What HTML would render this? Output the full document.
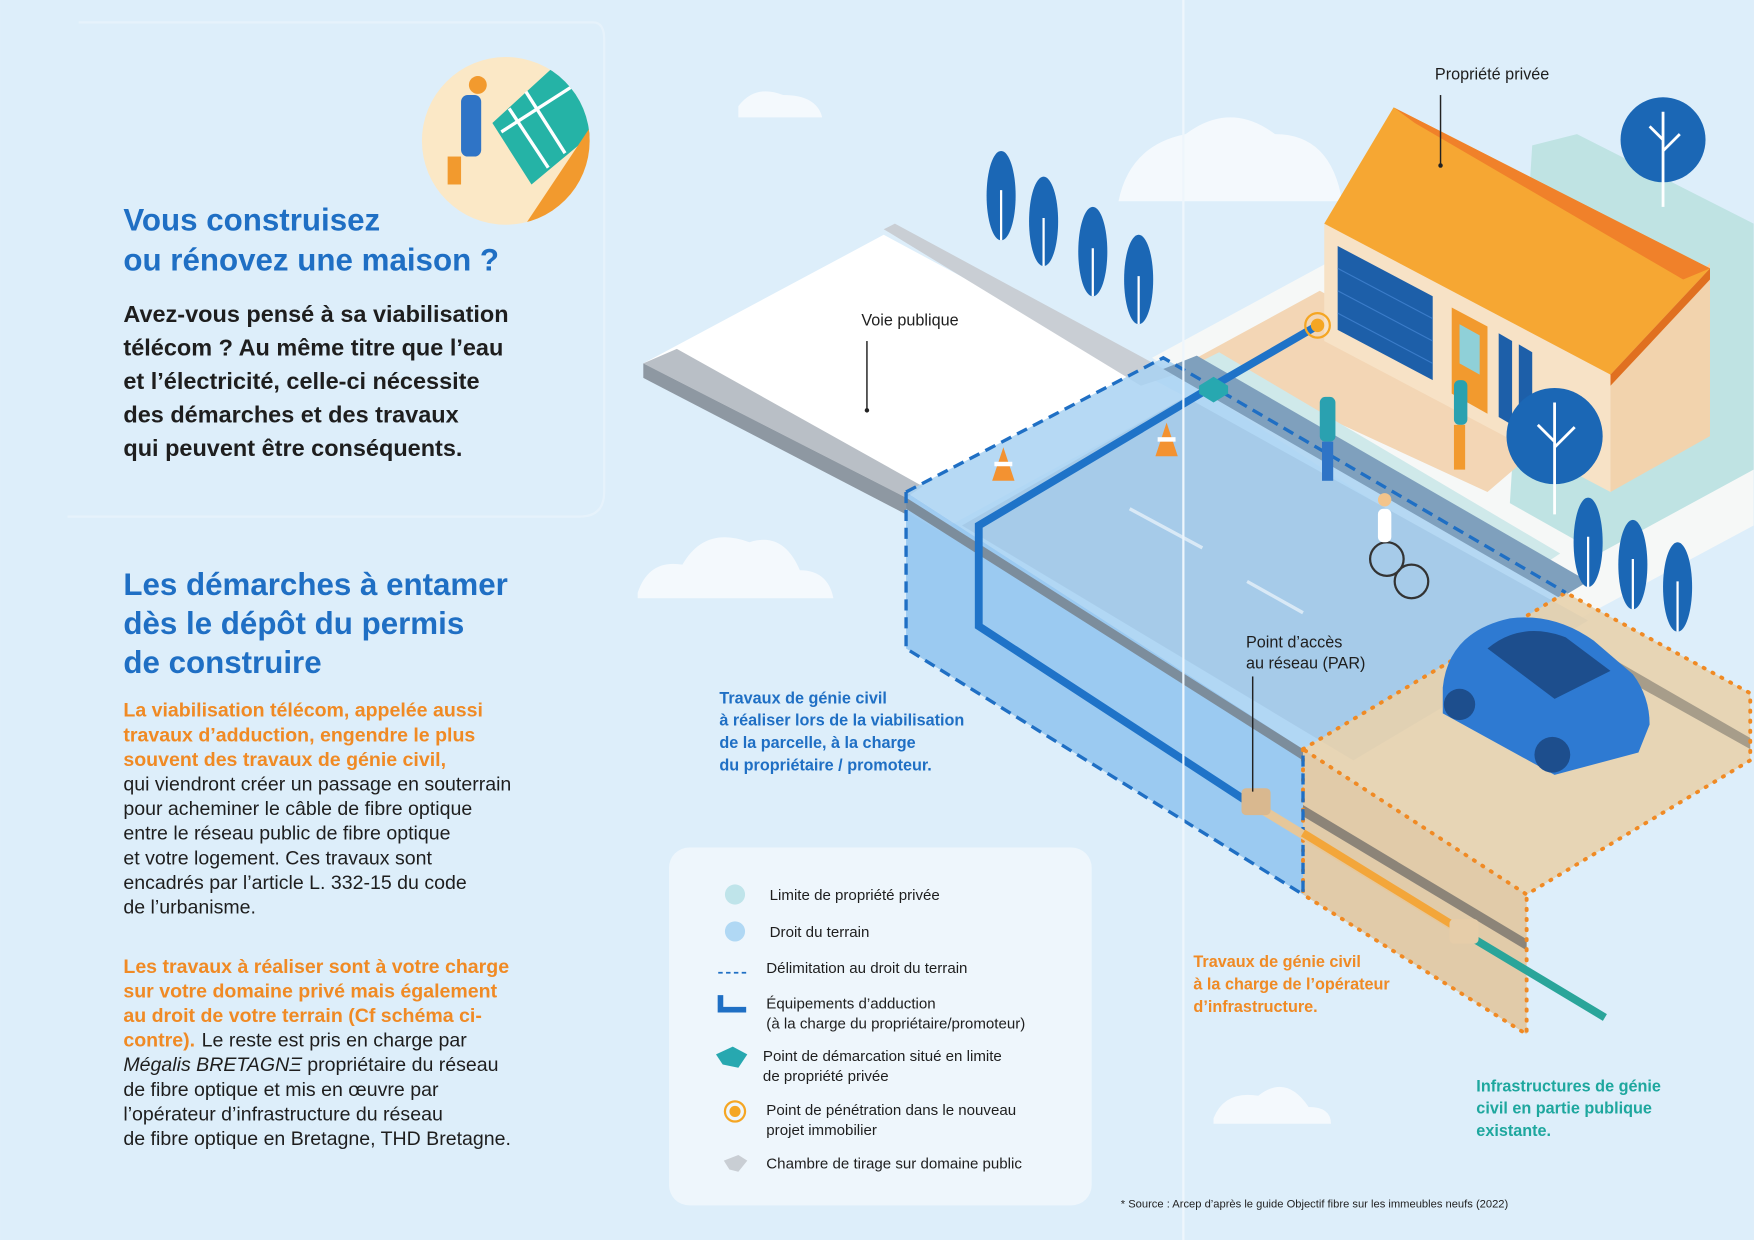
<!DOCTYPE html>
<html><head><meta charset="utf-8"><style>
html,body{margin:0;padding:0;background:#deeefa;}
svg{display:block}
text{font-family:"Liberation Sans",sans-serif;}
</style></head><body>
<svg width="1754" height="1240" viewBox="0 0 1568 1109" xmlns="http://www.w3.org/2000/svg">
<rect width="1568" height="1109" fill="#ddeefa"/>
<path d="M70 20 H530 Q540 20 540 35 V440 Q540 462 518 462 H60" fill="none" stroke="#e6f2fb" stroke-width="2"/>
<g fill="#f4f9fd">
<path d="M570 530 q10-30 40-25 q20-35 60-20 q30-10 45 25 q25 0 30 25 h-175z"/>
<path d="M1000 180 q10-50 60-60 q40-30 80 0 q50 0 60 60z"/>
<path d="M1085 1000 q10-25 40-20 q25-20 45 10 q20 0 20 15 h-105z"/>
<path d="M660 95 q15-20 40-10 q30 0 35 20 h-75z"/>
</g>
<!-- public road white slab -->
<polygon points="575,325 790,210 1060,355 840,475" fill="#ffffff"/>
<polygon points="575,325 605,312 825,435 810,445" fill="#b9bfc6"/>
<polygon points="575,325 575,338 810,460 810,445" fill="#8e98a2"/>
<polygon points="790,205 800,200 1050,335 1020,345" fill="#c9ced4"/>
<!-- private lot -->
<polygon points="1030,320 1270,190 1568,340 1568,470 1400,560" fill="#f6f8f7"/>
<polygon points="1370,130 1410,120 1568,200 1568,420 1430,495 1350,450" fill="#bfe3e3"/>
<polygon points="1070,320 1180,260 1400,380 1330,440" fill="#f3d6b5"/>
<polygon points="1060,330 1090,315 1395,495 1380,505" fill="#cfe9ea"/>
<!-- blue dashed zone -->
<polygon points="810,440 1040,320 1400,530 1165,670" fill="#a9d2f2" opacity="0.85"/>
<polygon points="810,440 810,580 1165,800 1165,670" fill="#8fc3ee" opacity="0.85"/>
<polygon points="860,470 1060,355 1420,555 1210,680" fill="#a6cbe9"/>
<polygon points="1040,330 1070,318 1420,520 1395,535" fill="#7fa0bd"/>
<polygon points="810,445 810,455 1165,680 1165,670" fill="#7c8d9c"/>
<!-- orange dotted zone -->
<polygon points="1165,670 1400,530 1565,620 1565,680 1365,800" fill="#e8d1ad" opacity="0.9"/>
<polygon points="1165,670 1165,800 1365,925 1365,800" fill="#e1c7a0" opacity="0.9"/>
<polygon points="1165,720 1165,730 1365,850 1365,840" fill="#8c8478"/>
<polygon points="1400,565 1565,660 1565,670 1395,575" fill="#8c8478" opacity="0.7"/>
<polyline points="1165,670 1400,530 1565,620 1565,680 1365,800 1165,670" fill="none" stroke="#f08a24" stroke-width="3.5" stroke-dasharray="1 8" stroke-linecap="round"/>
<polyline points="1165,670 1165,800 1365,925 1365,800" fill="none" stroke="#f08a24" stroke-width="3.5" stroke-dasharray="1 8" stroke-linecap="round"/>
<polyline points="810,440 1040,320 1400,530" fill="none" stroke="#1f6fc4" stroke-width="3" stroke-dasharray="10 6"/>
<polyline points="810,440 810,580 1165,800 1165,670" fill="none" stroke="#1f6fc4" stroke-width="3" stroke-dasharray="10 6"/>
<g stroke="#d9e9f6" stroke-width="3"><line x1="1010" y1="455" x2="1075" y2="490"/><line x1="1115" y1="520" x2="1165" y2="548"/></g>
<!-- cable -->
<polyline points="1180,290 1085,345 875,470 875,560 1120,720" fill="none" stroke="#1f73c8" stroke-width="7"/>
<polygon points="1072,345 1085,337 1098,345 1098,352 1085,360 1072,352" fill="#27a8b0"/>
<line x1="1130" y1="725" x2="1310" y2="835" stroke="#e6c79a" stroke-width="8"/>
<line x1="1165" y1="745" x2="1300" y2="828" stroke="#f3a63a" stroke-width="7"/>
<line x1="1310" y1="835" x2="1435" y2="910" stroke="#2aa59a" stroke-width="7"/>
<rect x="1110" y="705" width="26" height="24" rx="4" fill="#d9b88f"/>
<rect x="1296" y="822" width="26" height="22" rx="4" fill="#e6cda9"/>
<g fill="#f39231"><polygon points="897,400 887,430 907,430"/><polygon points="1043,378 1033,408 1053,408"/></g>
<g fill="#fff"><rect x="889" y="413" width="16" height="4"/><rect x="1035" y="391" width="16" height="4"/></g>
<!-- trees -->
<g fill="#1b67b5">
<ellipse cx="895" cy="175" rx="13" ry="40"/><ellipse cx="933" cy="198" rx="13" ry="40"/><ellipse cx="977" cy="225" rx="13" ry="40"/><ellipse cx="1018" cy="250" rx="13" ry="40"/>
<ellipse cx="1420" cy="485" rx="13" ry="40"/><ellipse cx="1460" cy="505" rx="13" ry="40"/><ellipse cx="1500" cy="525" rx="13" ry="40"/>
<circle cx="1487" cy="125" r="38"/>
</g>
<g stroke="#fff" stroke-width="2" fill="none"><path d="M895 170 V215 M933 195 V238 M977 222 V265 M1018 247 V290 M1420 480 V525 M1460 500 V545 M1500 520 V565"/></g>
<path d="M1487 100 V185 M1487 135 l15-15 M1487 125 l-12-12" stroke="#fff" stroke-width="2.5" fill="none"/>
<!-- house -->
<polygon points="1184,200 1440,330 1440,440 1184,305" fill="#f7e2c6"/>
<polygon points="1440,330 1529,235 1529,390 1440,440" fill="#f2d3ad"/>
<polygon points="1246,96 1529,240 1440,335 1184,200" fill="#f6a733"/>
<polygon points="1246,96 1529,240 1505,250 1265,110" fill="#f0812a"/>
<polygon points="1440,335 1529,240 1529,250 1440,345" fill="#e07020"/>
<polygon points="1196,220 1281,265 1281,340 1196,295" fill="#1d5fa9"/>
<g stroke="#3b7cc9" stroke-width="1"><line x1="1196" y1="240" x2="1281" y2="285"/><line x1="1196" y1="260" x2="1281" y2="305"/><line x1="1196" y1="280" x2="1281" y2="325"/></g>
<polygon points="1298,275 1330,292 1330,370 1298,352" fill="#f29a2e"/>
<polygon points="1305,290 1323,300 1323,335 1305,325" fill="#8fd0d8"/>
<polygon points="1340,298 1352,305 1352,380 1340,373" fill="#1d5fa9"/>
<polygon points="1358,308 1370,315 1370,390 1358,383" fill="#1d5fa9"/>
<circle cx="1390" cy="390" r="43" fill="#1b67b5"/>
<path d="M1390 360 V460 M1390 400 l18-18 M1390 395 l-15-15" stroke="#fff" stroke-width="2.5" fill="none"/>
<circle cx="1178" cy="291" r="11" fill="none" stroke="#f5a623" stroke-width="2"/><circle cx="1178" cy="291" r="6" fill="#f5a623"/>
<!-- car -->
<path d="M1290 615 q5-50 60-62 q40-5 75 20 l35 30 q15 20 15 45 l-10 25 -75 20 -100-55z" fill="#2e7ad2"/>
<path d="M1330 580 q30-25 70-10 l40 30 -50 25z" fill="#1d4e8d"/>
<circle cx="1305" cy="630" r="14" fill="#1d4e8d"/><circle cx="1388" cy="675" r="16" fill="#1d4e8d"/>
<!-- people -->
<g fill="#2aa1b0"><rect x="1180" y="355" width="14" height="40" rx="5"/><rect x="1300" y="340" width="12" height="40" rx="5"/></g>
<rect x="1182" y="395" width="10" height="35" fill="#2f74c6"/>
<rect x="1300" y="380" width="10" height="40" fill="#f29a2e"/>
<circle cx="1240" cy="500" r="15" fill="none" stroke="#333" stroke-width="2"/><circle cx="1262" cy="520" r="15" fill="none" stroke="#333" stroke-width="2"/>
<rect x="1232" y="455" width="12" height="30" rx="5" fill="#fff"/><circle cx="1238" cy="447" r="6" fill="#f3c48b"/>
<!-- callouts -->
<g stroke="#222" stroke-width="1.3"><line x1="775" y1="305" x2="775" y2="367"/><line x1="1288" y1="85" x2="1288" y2="148"/><line x1="1120" y1="605" x2="1120" y2="708"/></g>
<circle cx="775" cy="367" r="2" fill="#222"/><circle cx="1288" cy="148" r="2" fill="#222"/>
<line x1="1058" y1="0" x2="1058" y2="1109" stroke="#eef6fc" stroke-width="2"/>
<g font-size="14.5" fill="#1e1e1e">
<text x="770" y="291">Voie publique</text>
<text x="1283" y="71">Propriété privée</text>
<text x="1114" y="579">Point d’accès</text>
<text x="1114" y="598">au réseau (PAR)</text>
</g>
<g font-size="14.5" font-weight="bold" fill="#1f6fc4">
<text x="643" y="629">Travaux de génie civil</text>
<text x="643" y="649">à réaliser lors de la viabilisation</text>
<text x="643" y="669">de la parcelle, à la charge</text>
<text x="643" y="689">du propriétaire / promoteur.</text>
</g>
<g font-size="14.5" font-weight="bold" fill="#f08a24">
<text x="1067" y="865">Travaux de génie civil</text>
<text x="1067" y="885">à la charge de l’opérateur</text>
<text x="1067" y="905">d’infrastructure.</text>
</g>
<g font-size="14.5" font-weight="bold" fill="#1ea79e">
<text x="1320" y="976">Infrastructures de génie</text>
<text x="1320" y="996">civil en partie publique</text>
<text x="1320" y="1016">existante.</text>
</g>
<text x="1002" y="1080" font-size="10" fill="#222">* Source : Arcep d’après le guide Objectif fibre sur les immeubles neufs (2022)</text>
<!-- legend -->
<rect x="598" y="758" width="378" height="320" rx="18" fill="#eef6fc"/>
<circle cx="657" cy="800" r="9" fill="#bfe4ea"/>
<circle cx="657" cy="833" r="9" fill="#b0d8f4"/>
<line x1="642" y1="870" x2="668" y2="870" stroke="#1f6fc4" stroke-width="1.5" stroke-dasharray="4 3"/>
<path d="M644 890 V903 H667" fill="none" stroke="#1f6fc4" stroke-width="5"/>
<polygon points="640,943 655,936 668,943 660,955 646,952" fill="#27a8b0"/>
<circle cx="657" cy="994" r="9" fill="none" stroke="#f5a623" stroke-width="2"/><circle cx="657" cy="994" r="5" fill="#f5a623"/>
<polygon points="647,1038 660,1033 668,1038 660,1048 652,1046" fill="#c9ced4"/>
<g font-size="13.5" fill="#1e1e1e">
<text x="688" y="805">Limite de propriété privée</text>
<text x="688" y="838">Droit du terrain</text>
<text x="685" y="870">Délimitation au droit du terrain</text>
<text x="685" y="902">Équipements d’adduction</text>
<text x="685" y="920">(à la charge du propriétaire/promoteur)</text>
<text x="682" y="949">Point de démarcation situé en limite</text>
<text x="682" y="967">de propriété privée</text>
<text x="685" y="997">Point de pénétration dans le nouveau</text>
<text x="685" y="1015">projet immobilier</text>
<text x="685" y="1045">Chambre de tirage sur domaine public</text>
</g>
<!-- worker circle -->
<clipPath id="wc"><circle cx="452" cy="126" r="75"/></clipPath>
<circle cx="452" cy="126" r="75" fill="#fbe8c6"/>
<g clip-path="url(#wc)">
<polygon points="440,110 500,55 535,115 475,165" fill="#25b3a6"/>
<g stroke="#fff" stroke-width="3"><line x1="455" y1="97" x2="490" y2="150"/><line x1="470" y1="82" x2="505" y2="137"/><line x1="448" y1="118" x2="515" y2="75"/></g>
<polygon points="470,200 530,110 535,130 510,205" fill="#f29a2e"/>
</g>
<rect x="412" y="85" width="18" height="55" rx="6" fill="#2f74c6"/>
<rect x="400" y="140" width="12" height="25" fill="#f29a2e"/>
<circle cx="427" cy="76" r="8" fill="#f29a2e"/>
<!-- left text -->
<g font-weight="bold" fill="#1f6fc4">
<text x="110" y="206" font-size="28">Vous construisez</text>
<text x="110" y="242" font-size="28">ou rénovez une maison ?</text>
<text x="110" y="532" font-size="28">Les démarches à entamer</text>
<text x="110" y="567" font-size="28">dès le dépôt du permis</text>
<text x="110" y="602" font-size="28">de construire</text>
</g>
<g font-weight="bold" fill="#1e1e1e" font-size="21">
<text x="110" y="288">Avez-vous pensé à sa viabilisation</text>
<text x="110" y="318">télécom ? Au même titre que l’eau</text>
<text x="110" y="348">et l’électricité, celle-ci nécessite</text>
<text x="110" y="378">des démarches et des travaux</text>
<text x="110" y="408">qui peuvent être conséquents.</text>
</g>
<g font-size="17.5">
<g font-weight="bold" fill="#f08a24">
<text x="110" y="641">La viabilisation télécom, appelée aussi</text>
<text x="110" y="663">travaux d’adduction, engendre le plus</text>
<text x="110" y="685">souvent des travaux de génie civil,</text>
<text x="110" y="870">Les travaux à réaliser sont à votre charge</text>
<text x="110" y="892">sur votre domaine privé mais également</text>
<text x="110" y="914">au droit de votre terrain (Cf schéma ci-</text>
<text x="110" y="936">contre).</text>
</g>
<g fill="#1e1e1e">
<text x="110" y="707">qui viendront créer un passage en souterrain</text>
<text x="110" y="729">pour acheminer le câble de fibre optique</text>
<text x="110" y="751">entre le réseau public de fibre optique</text>
<text x="110" y="773">et votre logement. Ces travaux sont</text>
<text x="110" y="795">encadrés par l’article L. 332-15 du code</text>
<text x="110" y="817">de l’urbanisme.</text>
<text x="180" y="936">Le reste est pris en charge par</text>
<text x="110" y="958"><tspan font-style="italic">Mégalis BRETAGNΞ</tspan> propriétaire du réseau</text>
<text x="110" y="980">de fibre optique et mis en œuvre par</text>
<text x="110" y="1002">l’opérateur d’infrastructure du réseau</text>
<text x="110" y="1024">de fibre optique en Bretagne, THD Bretagne.</text>
</g>
</g>
</svg>
</body></html>
